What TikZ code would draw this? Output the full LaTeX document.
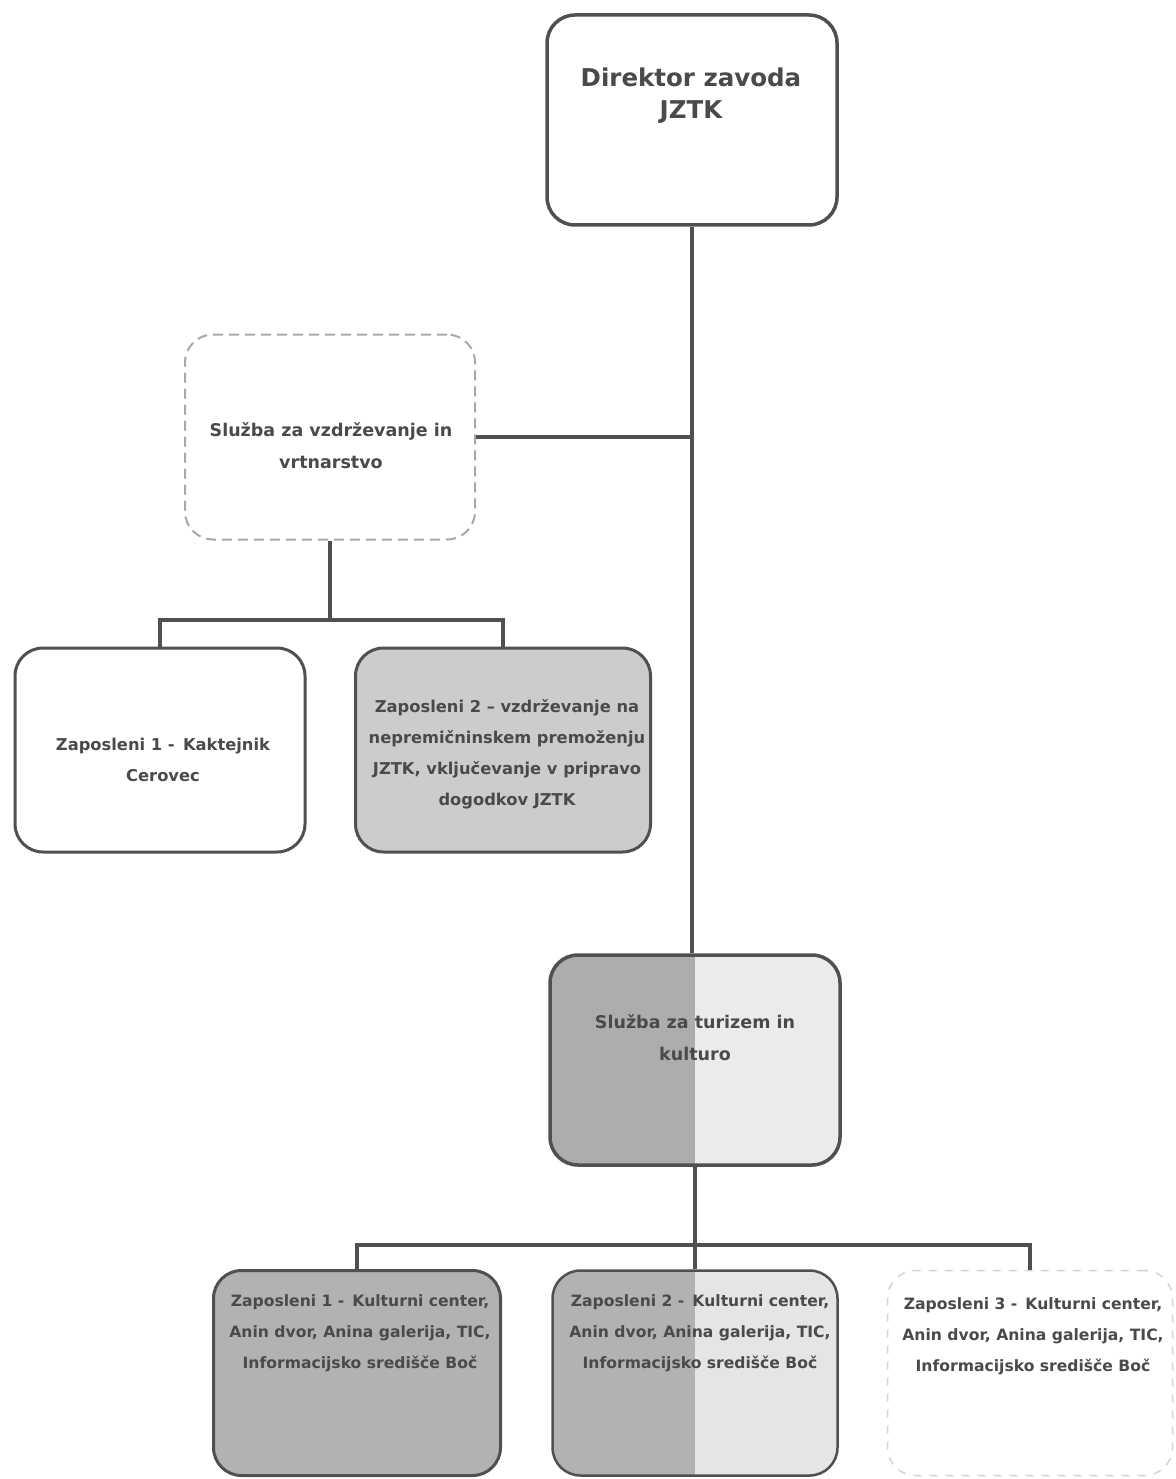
\documentclass[tikz,border=0pt]{standalone}
\usepackage{fontspec}
\setmainfont{DejaVu Sans}
\definecolor{ln}{HTML}{505050}
\definecolor{tx}{HTML}{4A4A4A}
\begin{document}
\begin{tikzpicture}[x=1pt,y=-1pt,
  box/.style={draw=ln,line width=3.5pt,rounded corners=28pt,minimum width=#1,minimum height=205pt,inner sep=0pt},
  box/.default=290pt,
  conn/.style={draw=ln,line width=3.5pt},
  lbl/.style={text=tx,font=\bfseries\fontsize{16.3pt}{31pt}\selectfont,align=center,inner sep=0pt},
  svc/.style={lbl,font=\bfseries\fontsize{17.5pt}{32pt}\selectfont},
  emp/.style={lbl,font=\bfseries\fontsize{15.6pt}{31pt}\selectfont},
  leftgray/.style={path picture={\fill[#1,sharp corners] (path picture bounding box.south west) rectangle (path picture bounding box.north);}}
]
\useasboundingbox[fill=white] (0,0) rectangle (1175,1479);

% boxes
\node[box,minimum height=210pt] (d) at (692,120) {};
\node[box,draw=ln!50,line width=2pt,dash pattern=on 10pt off 6pt] (vz) at (330,437) {};
\node[box,line width=3pt,minimum height=204pt] (z1a) at (160,750) {};
\node[box=295pt,fill=black!20,line width=3pt,minimum height=204pt] (z2a) at (503,750) {};
\node[box,fill=black!8,leftgray=black!32,minimum height=210pt] (t) at (695,1060) {};
\node[box=287pt,fill=black!30,line width=3pt] (z1b) at (357,1373) {};
\node[box=285pt,fill=black!10,leftgray=black!30,line width=2.5pt] (z2b) at (695,1373) {};
\node[box=285pt,draw=ln!25,line width=1.5pt,dash pattern=on 8pt off 8pt] (z3b) at (1030,1373) {};

% texts
\node[lbl,font=\bfseries\fontsize{24.5pt}{32pt}\selectfont] (td) at (691,96) {Direktor zavoda\\JZTK};
\node[svc] (tvz) at (331,446) {Služba za vzdrževanje in\\vrtnarstvo};
\node[lbl] (tz1a) at (163,760) {Zaposleni 1 -\, Kaktejnik\\Cerovec};
\node[lbl] (tz2a) at (507,754) {Zaposleni 2 – vzdrževanje na\\nepremičninskem premoženju\\JZTK, vključevanje v pripravo\\dogodkov JZTK};
\node[svc] (tt) at (695,1038) {Služba za turizem in\\kulturo};
\node[emp] (tz1b) at (360,1333) {Zaposleni 1 -\, Kulturni center,\\Anin dvor, Anina galerija, TIC,\\Informacijsko središče Boč};
\node[emp] (tz2b) at (700,1333) {Zaposleni 2 -\, Kulturni center,\\Anin dvor, Anina galerija, TIC,\\Informacijsko središče Boč};
\node[emp] (tz3b) at (1033,1336) {Zaposleni 3 -\, Kulturni center,\\Anin dvor, Anina galerija, TIC,\\Informacijsko središče Boč};

% connectors
\coordinate (j1) at (330,620);
\coordinate (j2) at (695,1245);
\draw[conn] (d.south) -- (d.south |- t.north);
\draw[conn] (vz.east) -- (d.south |- vz.east);
\draw[conn] (vz.south) -- (j1);
\draw[conn] (z1a.north) -- (z1a.north |- j1) -- (z2a.north |- j1) -- (z2a.north);
\draw[conn] (t.south) -- (j2) -- (z2b.north);
\draw[conn] (z1b.north) -- (z1b.north |- j2) -- (z3b.north |- j2) -- (z3b.north);
\end{tikzpicture}
\end{document}
